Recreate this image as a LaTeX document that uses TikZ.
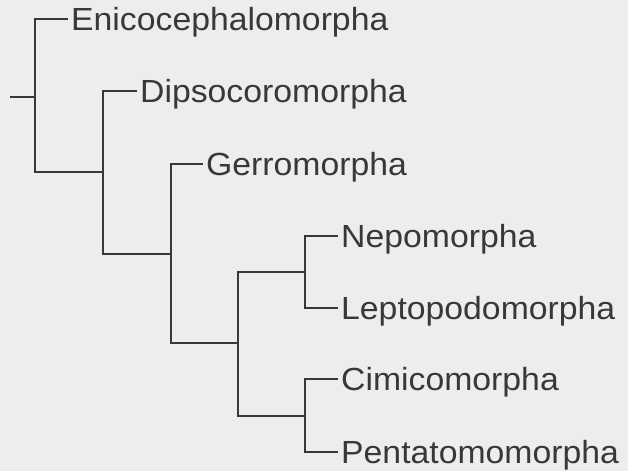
\documentclass[tikz,border=0pt]{standalone}
\usepackage{fontspec}
\setmainfont{Liberation Sans}[FakeStretch=1.055]
\definecolor{paper}{HTML}{EDEDED}
\definecolor{ink}{HTML}{383838}
\tikzset{
  taxon/.style={anchor=base west, inner sep=0pt, xshift=3pt, yshift=-11pt,
    text=ink, font=\fontsize{32}{36}\selectfont},
  branch/.style={draw=ink, line width=1.4pt}
}
\begin{document}
\begin{tikzpicture}[x=1pt, y=-1pt]
  \fill[paper] (0,0) rectangle (628,471);
  \useasboundingbox (0,0) rectangle (628,471);
  % splits: x of the split, y of the branch coming in
  \coordinate (base) at (10,97);
  \coordinate (root) at (35,97);
  \coordinate (n1) at (103,172);
  \coordinate (n2) at (171,254);
  \coordinate (n3) at (238,343);
  \coordinate (n4) at (305,272);
  \coordinate (n5) at (305,416);
  % tips
  \foreach \tip/\x/\y in {enico/68/19, dipso/137/91, gerro/203/164,
      nepo/338/236, lepto/338/308, cimi/338/379, penta/338/452}
    \coordinate (\tip) at (\x,\y);
  \foreach \tip/\name in {enico/Enicocephalomorpha, dipso/Dipsocoromorpha,
      gerro/Gerromorpha, nepo/Nepomorpha, lepto/Leptopodomorpha,
      cimi/Cimicomorpha, penta/Pentatomomorpha}
    \node[taxon] (\tip-lab) at (\tip) {\name};
  \draw[branch] (base) -- (root);
  \draw[branch] (enico) -| (root) |- (n1);
  \draw[branch] (dipso) -| (n1) |- (n2);
  \draw[branch] (gerro) -| (n2) |- (n3);
  \draw[branch] (n4) -| (n3) |- (n5);
  \draw[branch] (nepo) -| (n4) |- (lepto);
  \draw[branch] (cimi) -| (n5) |- (penta);
\end{tikzpicture}
\end{document}
